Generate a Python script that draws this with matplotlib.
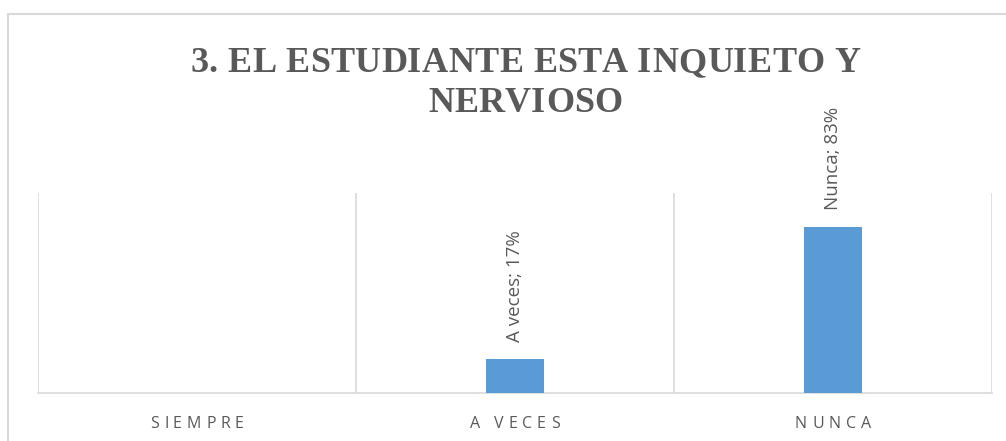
import matplotlib.pyplot as plt
from matplotlib.font_manager import FontProperties
from matplotlib.patches import Rectangle

categories = ["SIEMPRE", "A VECES", "NUNCA"]
series_names = ["Siempre", "A veces", "Nunca"]
values = [0.0, 0.17, 0.83]
title_lines = ["3. EL ESTUDIANTE ESTA INQUIETO Y", "NERVIOSO"]

grid_color = "#d9d9d9"
text_color = "#595959"
bar_color = "#5b9bd5"

W, H = 1006, 441
fig = plt.figure(figsize=(W / 100, H / 100), dpi=100)
renderer = fig.canvas.get_renderer()


def advances(s, fp):
    ref = renderer.get_text_width_height_descent("HH", fp, ismath=False)[0]
    return [renderer.get_text_width_height_descent("H" + c + "H", fp, ismath=False)[0] - ref for c in s]


def spaced_text(cx, baseline, s, fp, spacing):
    # draw text letter by letter to mimic the letter spacing of the original
    adv = advances(s, fp)
    total = sum(adv) + spacing * (len(s) - 1)
    x = cx - total / 2
    for c, a in zip(s, adv):
        fig.text(round(x) / W, 1 - baseline / H, c, fontproperties=fp, color=text_color,
                 ha="left", va="baseline")
        x += a + spacing


# outer chart border (right/bottom edges fall outside the image)
fig.patches.append(Rectangle((8 / W, -0.05), 1.1, 1 - 14 / H + 0.05,
                             transform=fig.transFigure, fill=False,
                             edgecolor=grid_color, linewidth=1.5))

ax = fig.add_axes([38 / W, 1 - 393 / H, (992 - 38) / W, (393 - 193) / H])

x = range(len(categories))
ax.bar(x, values, width=0.18, color=bar_color, zorder=3)

ax.set_xlim(-0.5, len(categories) - 0.5)
ax.set_ylim(0, 1.0)

# category separators
for b in [i - 0.5 for i in range(len(categories) + 1)]:
    ax.axvline(b, color=grid_color, linewidth=1.2, zorder=1)

for s in ["top", "left", "right"]:
    ax.spines[s].set_visible(False)
ax.spines["bottom"].set_color(grid_color)
ax.spines["bottom"].set_linewidth(1.2)
ax.set_yticks([])
ax.set_xticks([])

for i, v in enumerate(values):
    if v > 0:
        ax.annotate(f"{series_names[i]}; {int(round(v * 100))}%", (i, v),
                    xytext=(0, 12), textcoords="offset points", rotation=90,
                    ha="center", va="bottom", fontsize=13.5, color=text_color,
                    family="Open Sans")

# category labels, letter spaced
tick_fp = FontProperties(family="Open Sans", size=11.5)
tick_sp = (94 - sum(advances(categories[0], tick_fp))) / (len(categories[0]) - 1)
for i, lab in enumerate(categories):
    cx = ax.transData.transform((i, 0))[0]
    spaced_text(cx, 428, lab, tick_fp, tick_sp)

# title, letter spaced
title_fp = FontProperties(family="Liberation Serif", weight="bold", size=26)
title_sp = (670 - sum(advances(title_lines[0], title_fp))) / (len(title_lines[0]) - 1)
spaced_text(525, 72, title_lines[0], title_fp, title_sp)
spaced_text(525, 112, title_lines[1], title_fp, title_sp)

fig.savefig("out.png", dpi=100)
